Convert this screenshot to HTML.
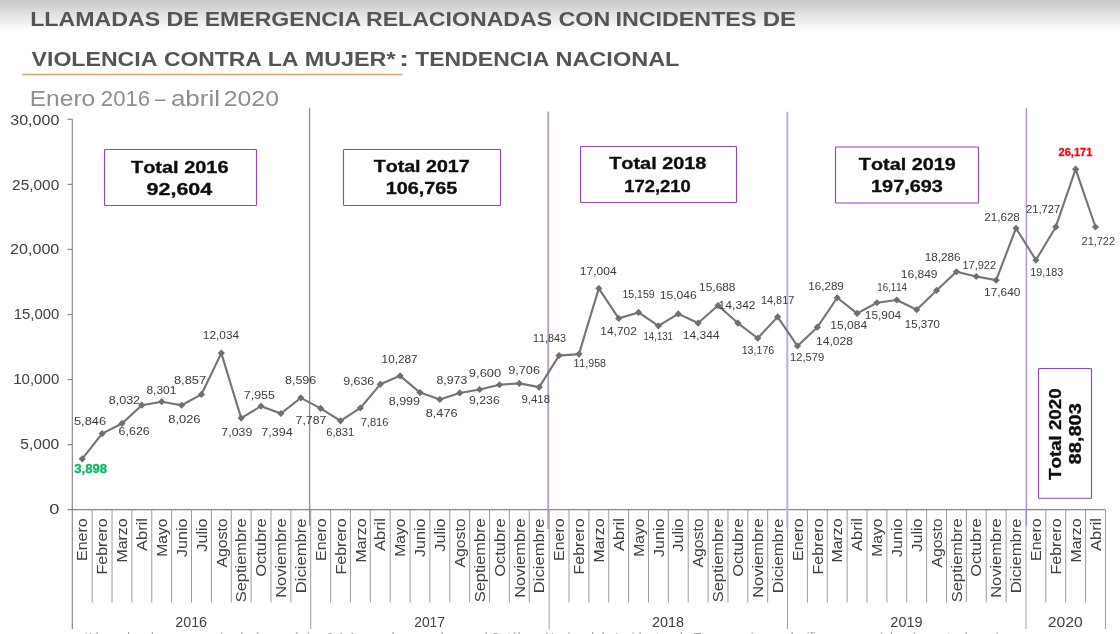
<!DOCTYPE html>
<html lang="es"><head><meta charset="utf-8"><title>Llamadas de emergencia</title>
<style>
html,body{margin:0;padding:0;background:#fff;}
body{width:1120px;height:634px;overflow:hidden;}
svg{display:block;font-family:"Liberation Sans",sans-serif;font-kerning:none;}
text{font-kerning:none;}
.t{font-weight:700;fill:#575453;font-size:20px;}
.sub{fill:#8e8e8e;font-size:22px;}
.yl{fill:#404040;font-size:14.5px;}
.dl{fill:#3c3c3c;font-size:11.3px;}
.ml{fill:#404040;font-size:14.3px;}
.yr{fill:#404040;font-size:14.3px;}
.tb{font-weight:700;fill:#111;font-size:17px;stroke:#111;stroke-width:0.35px;}
.fn{fill:#a0a0a0;font-size:14px;}
</style></head><body>
<svg width="1120" height="634" viewBox="0 0 1120 634">
<defs><filter id="soft" x="-2%" y="-2%" width="104%" height="104%"><feGaussianBlur stdDeviation="0.35"/></filter><linearGradient id="tg" x1="0" y1="0" x2="0" y2="1"><stop offset="0" stop-color="#c7c7c7"/><stop offset="1" stop-color="#ffffff"/></linearGradient></defs>
<rect x="0" y="0" width="1120" height="634" fill="#fff"/>
<rect x="0" y="0" width="1120" height="31" fill="url(#tg)"/>
<g filter="url(#soft)">

<text class="t" y="26.30"><tspan x="30.20" textLength="129.95" lengthAdjust="spacingAndGlyphs">LLAMADAS</tspan> <tspan x="166.44" textLength="32.48" lengthAdjust="spacingAndGlyphs">DE</tspan> <tspan x="204.71" textLength="156.40" lengthAdjust="spacingAndGlyphs">EMERGENCIA</tspan> <tspan x="365.95" textLength="186.20" lengthAdjust="spacingAndGlyphs">RELACIONADAS</tspan> <tspan x="558.54" textLength="51.78" lengthAdjust="spacingAndGlyphs">CON</tspan> <tspan x="615.44" textLength="140.97" lengthAdjust="spacingAndGlyphs">INCIDENTES</tspan> <tspan x="762.65" textLength="33.29" lengthAdjust="spacingAndGlyphs">DE</tspan></text>
<text class="t" y="66.20"><tspan x="31.59" textLength="125.77" lengthAdjust="spacingAndGlyphs">VIOLENCIA</tspan> <tspan x="164.06" textLength="97.79" lengthAdjust="spacingAndGlyphs">CONTRA</tspan> <tspan x="267.70" textLength="30.91" lengthAdjust="spacingAndGlyphs">LA</tspan> <tspan x="304.69" textLength="90.83" lengthAdjust="spacingAndGlyphs">MUJER*</tspan> <tspan x="398.67" textLength="10.66" lengthAdjust="spacingAndGlyphs">:</tspan> <tspan x="415.24" textLength="134.11" lengthAdjust="spacingAndGlyphs">TENDENCIA</tspan> <tspan x="555.43" textLength="124.05" lengthAdjust="spacingAndGlyphs">NACIONAL</tspan></text>
<rect x="22" y="73.7" width="380.5" height="1.6" fill="#cda57a"/>
<text class="sub" y="106.20"><tspan x="29.74" textLength="65.55" lengthAdjust="spacingAndGlyphs">Enero</tspan> <tspan x="100.88" textLength="49.34" lengthAdjust="spacingAndGlyphs">2016</tspan> <tspan x="155.00" textLength="10.51" lengthAdjust="spacingAndGlyphs">–</tspan> <tspan x="170.90" textLength="49.09" lengthAdjust="spacingAndGlyphs">abril</tspan> <tspan x="223.75" textLength="55.22" lengthAdjust="spacingAndGlyphs">2020</tspan></text>
<g stroke="#888888" stroke-width="1.2" fill="none">
<line x1="72.3" y1="119.3" x2="72.3" y2="629"/>
<line x1="67.5" y1="509.7" x2="1105.2" y2="509.7"/>
<line x1="67.5" y1="119.30" x2="72.3" y2="119.30"/>
<line x1="67.5" y1="184.37" x2="72.3" y2="184.37"/>
<line x1="67.5" y1="249.43" x2="72.3" y2="249.43"/>
<line x1="67.5" y1="314.50" x2="72.3" y2="314.50"/>
<line x1="67.5" y1="379.57" x2="72.3" y2="379.57"/>
<line x1="67.5" y1="444.63" x2="72.3" y2="444.63"/>
</g>
<g stroke="#9c9c9c" stroke-width="1.0" fill="none">
<line x1="92.17" y1="509.7" x2="92.17" y2="602.5"/>
<line x1="112.04" y1="509.7" x2="112.04" y2="602.5"/>
<line x1="131.90" y1="509.7" x2="131.90" y2="602.5"/>
<line x1="151.77" y1="509.7" x2="151.77" y2="602.5"/>
<line x1="171.64" y1="509.7" x2="171.64" y2="602.5"/>
<line x1="191.51" y1="509.7" x2="191.51" y2="602.5"/>
<line x1="211.38" y1="509.7" x2="211.38" y2="602.5"/>
<line x1="231.24" y1="509.7" x2="231.24" y2="602.5"/>
<line x1="251.11" y1="509.7" x2="251.11" y2="602.5"/>
<line x1="270.98" y1="509.7" x2="270.98" y2="602.5"/>
<line x1="290.85" y1="509.7" x2="290.85" y2="602.5"/>
<line x1="310.72" y1="509.7" x2="310.72" y2="629"/>
<line x1="330.58" y1="509.7" x2="330.58" y2="602.5"/>
<line x1="350.45" y1="509.7" x2="350.45" y2="602.5"/>
<line x1="370.32" y1="509.7" x2="370.32" y2="602.5"/>
<line x1="390.19" y1="509.7" x2="390.19" y2="602.5"/>
<line x1="410.06" y1="509.7" x2="410.06" y2="602.5"/>
<line x1="429.92" y1="509.7" x2="429.92" y2="602.5"/>
<line x1="449.79" y1="509.7" x2="449.79" y2="602.5"/>
<line x1="469.66" y1="509.7" x2="469.66" y2="602.5"/>
<line x1="489.53" y1="509.7" x2="489.53" y2="602.5"/>
<line x1="509.40" y1="509.7" x2="509.40" y2="602.5"/>
<line x1="529.26" y1="509.7" x2="529.26" y2="602.5"/>
<line x1="549.13" y1="509.7" x2="549.13" y2="629"/>
<line x1="569.00" y1="509.7" x2="569.00" y2="602.5"/>
<line x1="588.87" y1="509.7" x2="588.87" y2="602.5"/>
<line x1="608.74" y1="509.7" x2="608.74" y2="602.5"/>
<line x1="628.60" y1="509.7" x2="628.60" y2="602.5"/>
<line x1="648.47" y1="509.7" x2="648.47" y2="602.5"/>
<line x1="668.34" y1="509.7" x2="668.34" y2="602.5"/>
<line x1="688.21" y1="509.7" x2="688.21" y2="602.5"/>
<line x1="708.08" y1="509.7" x2="708.08" y2="602.5"/>
<line x1="727.94" y1="509.7" x2="727.94" y2="602.5"/>
<line x1="747.81" y1="509.7" x2="747.81" y2="602.5"/>
<line x1="767.68" y1="509.7" x2="767.68" y2="602.5"/>
<line x1="787.55" y1="509.7" x2="787.55" y2="629"/>
<line x1="807.42" y1="509.7" x2="807.42" y2="602.5"/>
<line x1="827.28" y1="509.7" x2="827.28" y2="602.5"/>
<line x1="847.15" y1="509.7" x2="847.15" y2="602.5"/>
<line x1="867.02" y1="509.7" x2="867.02" y2="602.5"/>
<line x1="886.89" y1="509.7" x2="886.89" y2="602.5"/>
<line x1="906.76" y1="509.7" x2="906.76" y2="602.5"/>
<line x1="926.62" y1="509.7" x2="926.62" y2="602.5"/>
<line x1="946.49" y1="509.7" x2="946.49" y2="602.5"/>
<line x1="966.36" y1="509.7" x2="966.36" y2="602.5"/>
<line x1="986.23" y1="509.7" x2="986.23" y2="602.5"/>
<line x1="1006.10" y1="509.7" x2="1006.10" y2="602.5"/>
<line x1="1025.96" y1="509.7" x2="1025.96" y2="629"/>
<line x1="1045.83" y1="509.7" x2="1045.83" y2="602.5"/>
<line x1="1065.70" y1="509.7" x2="1065.70" y2="602.5"/>
<line x1="1085.57" y1="509.7" x2="1085.57" y2="602.5"/>
<line x1="1105.44" y1="509.7" x2="1105.44" y2="629"/>
</g>
<text class="yl" x="10.29" y="124.60" textLength="49.04" lengthAdjust="spacingAndGlyphs">30,000</text>
<text class="yl" x="12.12" y="189.50" textLength="47.18" lengthAdjust="spacingAndGlyphs">25,000</text>
<text class="yl" x="10.09" y="254.40" textLength="49.24" lengthAdjust="spacingAndGlyphs">20,000</text>
<text class="yl" x="13.77" y="319.30" textLength="45.51" lengthAdjust="spacingAndGlyphs">15,000</text>
<text class="yl" x="13.15" y="384.20" textLength="46.14" lengthAdjust="spacingAndGlyphs">10,000</text>
<text class="yl" x="20.28" y="449.10" textLength="39.03" lengthAdjust="spacingAndGlyphs">5,000</text>
<text class="yl" x="49.29" y="514.00" textLength="10.12" lengthAdjust="spacingAndGlyphs">0</text>
<line x1="309.6" y1="108.2" x2="309.6" y2="525.6" stroke="#a57cc4" stroke-width="1.3"/>
<line x1="548.2" y1="111.4" x2="548.2" y2="529.1" stroke="#b39ccb" stroke-width="1.8"/>
<line x1="787.3" y1="111.8" x2="787.3" y2="529.3" stroke="#c3acd6" stroke-width="2.0"/>
<line x1="1026.4" y1="108.2" x2="1026.4" y2="525.6" stroke="#b494cd" stroke-width="1.5"/>
<text class="ml" transform="translate(87.43,0) rotate(-90)" x="-560.91" y="0" textLength="42.47" lengthAdjust="spacingAndGlyphs">Enero</text>
<text class="ml" transform="translate(107.30,0) rotate(-90)" x="-574.51" y="0" textLength="56.09" lengthAdjust="spacingAndGlyphs">Febrero</text>
<text class="ml" transform="translate(127.17,0) rotate(-90)" x="-562.60" y="0" textLength="44.17" lengthAdjust="spacingAndGlyphs">Marzo</text>
<text class="ml" transform="translate(147.04,0) rotate(-90)" x="-551.03" y="0" textLength="33.04" lengthAdjust="spacingAndGlyphs">Abril</text>
<text class="ml" transform="translate(166.91,0) rotate(-90)" x="-556.79" y="0" textLength="38.34" lengthAdjust="spacingAndGlyphs">Mayo</text>
<text class="ml" transform="translate(186.77,0) rotate(-90)" x="-556.95" y="0" textLength="38.53" lengthAdjust="spacingAndGlyphs">Junio</text>
<text class="ml" transform="translate(206.64,0) rotate(-90)" x="-551.65" y="0" textLength="33.23" lengthAdjust="spacingAndGlyphs">Julio</text>
<text class="ml" transform="translate(226.51,0) rotate(-90)" x="-567.63" y="0" textLength="49.19" lengthAdjust="spacingAndGlyphs">Agosto</text>
<text class="ml" transform="translate(246.38,0) rotate(-90)" x="-602.24" y="0" textLength="83.87" lengthAdjust="spacingAndGlyphs">Septiembre</text>
<text class="ml" transform="translate(266.25,0) rotate(-90)" x="-576.68" y="0" textLength="58.30" lengthAdjust="spacingAndGlyphs">Octubre</text>
<text class="ml" transform="translate(286.11,0) rotate(-90)" x="-597.75" y="0" textLength="79.38" lengthAdjust="spacingAndGlyphs">Noviembre</text>
<text class="ml" transform="translate(305.98,0) rotate(-90)" x="-593.27" y="0" textLength="74.90" lengthAdjust="spacingAndGlyphs">Diciembre</text>
<text class="ml" transform="translate(325.85,0) rotate(-90)" x="-560.91" y="0" textLength="42.47" lengthAdjust="spacingAndGlyphs">Enero</text>
<text class="ml" transform="translate(345.72,0) rotate(-90)" x="-574.51" y="0" textLength="56.09" lengthAdjust="spacingAndGlyphs">Febrero</text>
<text class="ml" transform="translate(365.59,0) rotate(-90)" x="-562.60" y="0" textLength="44.17" lengthAdjust="spacingAndGlyphs">Marzo</text>
<text class="ml" transform="translate(385.45,0) rotate(-90)" x="-551.03" y="0" textLength="33.04" lengthAdjust="spacingAndGlyphs">Abril</text>
<text class="ml" transform="translate(405.32,0) rotate(-90)" x="-556.79" y="0" textLength="38.34" lengthAdjust="spacingAndGlyphs">Mayo</text>
<text class="ml" transform="translate(425.19,0) rotate(-90)" x="-556.95" y="0" textLength="38.53" lengthAdjust="spacingAndGlyphs">Junio</text>
<text class="ml" transform="translate(445.06,0) rotate(-90)" x="-551.65" y="0" textLength="33.23" lengthAdjust="spacingAndGlyphs">Julio</text>
<text class="ml" transform="translate(464.93,0) rotate(-90)" x="-567.63" y="0" textLength="49.19" lengthAdjust="spacingAndGlyphs">Agosto</text>
<text class="ml" transform="translate(484.79,0) rotate(-90)" x="-602.24" y="0" textLength="83.87" lengthAdjust="spacingAndGlyphs">Septiembre</text>
<text class="ml" transform="translate(504.66,0) rotate(-90)" x="-576.68" y="0" textLength="58.30" lengthAdjust="spacingAndGlyphs">Octubre</text>
<text class="ml" transform="translate(524.53,0) rotate(-90)" x="-597.75" y="0" textLength="79.38" lengthAdjust="spacingAndGlyphs">Noviembre</text>
<text class="ml" transform="translate(544.40,0) rotate(-90)" x="-593.27" y="0" textLength="74.90" lengthAdjust="spacingAndGlyphs">Diciembre</text>
<text class="ml" transform="translate(564.27,0) rotate(-90)" x="-560.91" y="0" textLength="42.47" lengthAdjust="spacingAndGlyphs">Enero</text>
<text class="ml" transform="translate(584.13,0) rotate(-90)" x="-574.51" y="0" textLength="56.09" lengthAdjust="spacingAndGlyphs">Febrero</text>
<text class="ml" transform="translate(604.00,0) rotate(-90)" x="-562.60" y="0" textLength="44.17" lengthAdjust="spacingAndGlyphs">Marzo</text>
<text class="ml" transform="translate(623.87,0) rotate(-90)" x="-551.03" y="0" textLength="33.04" lengthAdjust="spacingAndGlyphs">Abril</text>
<text class="ml" transform="translate(643.74,0) rotate(-90)" x="-556.79" y="0" textLength="38.34" lengthAdjust="spacingAndGlyphs">Mayo</text>
<text class="ml" transform="translate(663.61,0) rotate(-90)" x="-556.95" y="0" textLength="38.53" lengthAdjust="spacingAndGlyphs">Junio</text>
<text class="ml" transform="translate(683.47,0) rotate(-90)" x="-551.65" y="0" textLength="33.23" lengthAdjust="spacingAndGlyphs">Julio</text>
<text class="ml" transform="translate(703.34,0) rotate(-90)" x="-567.63" y="0" textLength="49.19" lengthAdjust="spacingAndGlyphs">Agosto</text>
<text class="ml" transform="translate(723.21,0) rotate(-90)" x="-602.24" y="0" textLength="83.87" lengthAdjust="spacingAndGlyphs">Septiembre</text>
<text class="ml" transform="translate(743.08,0) rotate(-90)" x="-576.68" y="0" textLength="58.30" lengthAdjust="spacingAndGlyphs">Octubre</text>
<text class="ml" transform="translate(762.95,0) rotate(-90)" x="-597.75" y="0" textLength="79.38" lengthAdjust="spacingAndGlyphs">Noviembre</text>
<text class="ml" transform="translate(782.81,0) rotate(-90)" x="-593.27" y="0" textLength="74.90" lengthAdjust="spacingAndGlyphs">Diciembre</text>
<text class="ml" transform="translate(802.68,0) rotate(-90)" x="-560.91" y="0" textLength="42.47" lengthAdjust="spacingAndGlyphs">Enero</text>
<text class="ml" transform="translate(822.55,0) rotate(-90)" x="-574.51" y="0" textLength="56.09" lengthAdjust="spacingAndGlyphs">Febrero</text>
<text class="ml" transform="translate(842.42,0) rotate(-90)" x="-562.60" y="0" textLength="44.17" lengthAdjust="spacingAndGlyphs">Marzo</text>
<text class="ml" transform="translate(862.29,0) rotate(-90)" x="-551.03" y="0" textLength="33.04" lengthAdjust="spacingAndGlyphs">Abril</text>
<text class="ml" transform="translate(882.15,0) rotate(-90)" x="-556.79" y="0" textLength="38.34" lengthAdjust="spacingAndGlyphs">Mayo</text>
<text class="ml" transform="translate(902.02,0) rotate(-90)" x="-556.95" y="0" textLength="38.53" lengthAdjust="spacingAndGlyphs">Junio</text>
<text class="ml" transform="translate(921.89,0) rotate(-90)" x="-551.65" y="0" textLength="33.23" lengthAdjust="spacingAndGlyphs">Julio</text>
<text class="ml" transform="translate(941.76,0) rotate(-90)" x="-567.63" y="0" textLength="49.19" lengthAdjust="spacingAndGlyphs">Agosto</text>
<text class="ml" transform="translate(961.63,0) rotate(-90)" x="-602.24" y="0" textLength="83.87" lengthAdjust="spacingAndGlyphs">Septiembre</text>
<text class="ml" transform="translate(981.49,0) rotate(-90)" x="-576.68" y="0" textLength="58.30" lengthAdjust="spacingAndGlyphs">Octubre</text>
<text class="ml" transform="translate(1001.36,0) rotate(-90)" x="-597.75" y="0" textLength="79.38" lengthAdjust="spacingAndGlyphs">Noviembre</text>
<text class="ml" transform="translate(1021.23,0) rotate(-90)" x="-593.27" y="0" textLength="74.90" lengthAdjust="spacingAndGlyphs">Diciembre</text>
<text class="ml" transform="translate(1041.10,0) rotate(-90)" x="-560.91" y="0" textLength="42.47" lengthAdjust="spacingAndGlyphs">Enero</text>
<text class="ml" transform="translate(1060.97,0) rotate(-90)" x="-574.51" y="0" textLength="56.09" lengthAdjust="spacingAndGlyphs">Febrero</text>
<text class="ml" transform="translate(1080.83,0) rotate(-90)" x="-562.60" y="0" textLength="44.17" lengthAdjust="spacingAndGlyphs">Marzo</text>
<text class="ml" transform="translate(1100.70,0) rotate(-90)" x="-551.03" y="0" textLength="33.04" lengthAdjust="spacingAndGlyphs">Abril</text>
<text class="yr" x="175.29" y="626.50" textLength="31.74" lengthAdjust="spacingAndGlyphs">2016</text>
<text class="yr" x="414.23" y="626.50" textLength="30.79" lengthAdjust="spacingAndGlyphs">2017</text>
<text class="yr" x="651.91" y="626.50" textLength="32.16" lengthAdjust="spacingAndGlyphs">2018</text>
<text class="yr" x="890.33" y="626.50" textLength="32.21" lengthAdjust="spacingAndGlyphs">2019</text>
<text class="yr" x="1047.81" y="626.50" textLength="35.01" lengthAdjust="spacingAndGlyphs">2020</text>
<polyline points="82.23,458.97 102.10,433.62 121.97,423.47 141.84,405.18 161.71,401.68 181.57,405.25 201.44,394.44 221.31,353.10 241.18,418.10 261.05,406.18 280.91,413.48 300.78,397.84 320.65,408.37 340.52,420.81 360.39,407.99 380.25,384.30 400.12,375.83 419.99,392.59 439.86,399.40 459.73,392.93 479.59,389.51 499.46,384.77 519.33,383.39 539.20,387.14 559.07,355.58 578.93,354.09 598.80,288.42 618.67,318.38 638.54,312.43 658.41,325.81 678.27,313.90 698.14,323.04 718.01,305.55 737.88,323.06 757.75,338.24 777.61,316.88 797.48,346.01 817.35,327.15 837.22,297.73 857.09,313.41 876.95,302.74 896.82,300.00 916.69,309.69 936.56,290.44 956.43,271.74 976.29,276.48 996.16,280.14 1016.03,228.25 1035.90,260.07 1055.77,226.96 1075.63,169.13 1095.50,227.02" fill="none" stroke="#747474" stroke-width="2.1" stroke-linejoin="round" stroke-linecap="round"/>
<path d="M82.23 455.37l3.6 3.6l-3.6 3.6l-3.6 -3.6ZM102.10 430.02l3.6 3.6l-3.6 3.6l-3.6 -3.6ZM121.97 419.87l3.6 3.6l-3.6 3.6l-3.6 -3.6ZM141.84 401.58l3.6 3.6l-3.6 3.6l-3.6 -3.6ZM161.71 398.08l3.6 3.6l-3.6 3.6l-3.6 -3.6ZM181.57 401.65l3.6 3.6l-3.6 3.6l-3.6 -3.6ZM201.44 390.84l3.6 3.6l-3.6 3.6l-3.6 -3.6ZM221.31 349.50l3.6 3.6l-3.6 3.6l-3.6 -3.6ZM241.18 414.50l3.6 3.6l-3.6 3.6l-3.6 -3.6ZM261.05 402.58l3.6 3.6l-3.6 3.6l-3.6 -3.6ZM280.91 409.88l3.6 3.6l-3.6 3.6l-3.6 -3.6ZM300.78 394.24l3.6 3.6l-3.6 3.6l-3.6 -3.6ZM320.65 404.77l3.6 3.6l-3.6 3.6l-3.6 -3.6ZM340.52 417.21l3.6 3.6l-3.6 3.6l-3.6 -3.6ZM360.39 404.39l3.6 3.6l-3.6 3.6l-3.6 -3.6ZM380.25 380.70l3.6 3.6l-3.6 3.6l-3.6 -3.6ZM400.12 372.23l3.6 3.6l-3.6 3.6l-3.6 -3.6ZM419.99 388.99l3.6 3.6l-3.6 3.6l-3.6 -3.6ZM439.86 395.80l3.6 3.6l-3.6 3.6l-3.6 -3.6ZM459.73 389.33l3.6 3.6l-3.6 3.6l-3.6 -3.6ZM479.59 385.91l3.6 3.6l-3.6 3.6l-3.6 -3.6ZM499.46 381.17l3.6 3.6l-3.6 3.6l-3.6 -3.6ZM519.33 379.79l3.6 3.6l-3.6 3.6l-3.6 -3.6ZM539.20 383.54l3.6 3.6l-3.6 3.6l-3.6 -3.6ZM559.07 351.98l3.6 3.6l-3.6 3.6l-3.6 -3.6ZM578.93 350.49l3.6 3.6l-3.6 3.6l-3.6 -3.6ZM598.80 284.82l3.6 3.6l-3.6 3.6l-3.6 -3.6ZM618.67 314.78l3.6 3.6l-3.6 3.6l-3.6 -3.6ZM638.54 308.83l3.6 3.6l-3.6 3.6l-3.6 -3.6ZM658.41 322.21l3.6 3.6l-3.6 3.6l-3.6 -3.6ZM678.27 310.30l3.6 3.6l-3.6 3.6l-3.6 -3.6ZM698.14 319.44l3.6 3.6l-3.6 3.6l-3.6 -3.6ZM718.01 301.95l3.6 3.6l-3.6 3.6l-3.6 -3.6ZM737.88 319.46l3.6 3.6l-3.6 3.6l-3.6 -3.6ZM757.75 334.64l3.6 3.6l-3.6 3.6l-3.6 -3.6ZM777.61 313.28l3.6 3.6l-3.6 3.6l-3.6 -3.6ZM797.48 342.41l3.6 3.6l-3.6 3.6l-3.6 -3.6ZM817.35 323.55l3.6 3.6l-3.6 3.6l-3.6 -3.6ZM837.22 294.13l3.6 3.6l-3.6 3.6l-3.6 -3.6ZM857.09 309.81l3.6 3.6l-3.6 3.6l-3.6 -3.6ZM876.95 299.14l3.6 3.6l-3.6 3.6l-3.6 -3.6ZM896.82 296.40l3.6 3.6l-3.6 3.6l-3.6 -3.6ZM916.69 306.09l3.6 3.6l-3.6 3.6l-3.6 -3.6ZM936.56 286.84l3.6 3.6l-3.6 3.6l-3.6 -3.6ZM956.43 268.14l3.6 3.6l-3.6 3.6l-3.6 -3.6ZM976.29 272.88l3.6 3.6l-3.6 3.6l-3.6 -3.6ZM996.16 276.54l3.6 3.6l-3.6 3.6l-3.6 -3.6ZM1016.03 224.65l3.6 3.6l-3.6 3.6l-3.6 -3.6ZM1035.90 256.47l3.6 3.6l-3.6 3.6l-3.6 -3.6ZM1055.77 223.36l3.6 3.6l-3.6 3.6l-3.6 -3.6ZM1075.63 165.53l3.6 3.6l-3.6 3.6l-3.6 -3.6ZM1095.50 223.42l3.6 3.6l-3.6 3.6l-3.6 -3.6Z" fill="#6f6f6f"/>
<text class="dl" style="fill:#00c25c;stroke:#00c25c;stroke-width:0.3px;font-weight:700;font-size:12px" x="74.20" y="472.90" textLength="32.96" lengthAdjust="spacingAndGlyphs">3,898</text>
<text class="dl" x="73.99" y="425.00" textLength="32.08" lengthAdjust="spacingAndGlyphs">5,846</text>
<text class="dl" x="118.62" y="434.50" textLength="31.18" lengthAdjust="spacingAndGlyphs">6,626</text>
<text class="dl" x="108.70" y="403.75" textLength="31.43" lengthAdjust="spacingAndGlyphs">8,032</text>
<text class="dl" x="146.48" y="394.25" textLength="29.85" lengthAdjust="spacingAndGlyphs">8,301</text>
<text class="dl" x="168.19" y="423.00" textLength="32.38" lengthAdjust="spacingAndGlyphs">8,026</text>
<text class="dl" x="173.94" y="384.25" textLength="32.21" lengthAdjust="spacingAndGlyphs">8,857</text>
<text class="dl" x="202.85" y="339.25" textLength="36.25" lengthAdjust="spacingAndGlyphs">12,034</text>
<text class="dl" x="221.37" y="435.50" textLength="30.97" lengthAdjust="spacingAndGlyphs">7,039</text>
<text class="dl" x="243.87" y="399.00" textLength="30.90" lengthAdjust="spacingAndGlyphs">7,955</text>
<text class="dl" x="261.35" y="436.25" textLength="31.51" lengthAdjust="spacingAndGlyphs">7,394</text>
<text class="dl" x="284.96" y="384.00" textLength="31.34" lengthAdjust="spacingAndGlyphs">8,596</text>
<text class="dl" x="295.62" y="424.00" textLength="30.75" lengthAdjust="spacingAndGlyphs">7,787</text>
<text class="dl" x="326.18" y="435.50" textLength="28.12" lengthAdjust="spacingAndGlyphs">6,831</text>
<text class="dl" x="360.68" y="425.50" textLength="27.81" lengthAdjust="spacingAndGlyphs">7,816</text>
<text class="dl" x="343.17" y="384.50" textLength="31.13" lengthAdjust="spacingAndGlyphs">9,636</text>
<text class="dl" x="381.60" y="362.50" textLength="35.99" lengthAdjust="spacingAndGlyphs">10,287</text>
<text class="dl" x="388.70" y="405.00" textLength="31.39" lengthAdjust="spacingAndGlyphs">8,999</text>
<text class="dl" x="425.70" y="417.00" textLength="31.86" lengthAdjust="spacingAndGlyphs">8,476</text>
<text class="dl" x="436.46" y="384.00" textLength="30.83" lengthAdjust="spacingAndGlyphs">8,973</text>
<text class="dl" x="468.92" y="403.75" textLength="30.87" lengthAdjust="spacingAndGlyphs">9,236</text>
<text class="dl" x="468.89" y="377.00" textLength="32.36" lengthAdjust="spacingAndGlyphs">9,600</text>
<text class="dl" x="508.15" y="374.25" textLength="31.91" lengthAdjust="spacingAndGlyphs">9,706</text>
<text class="dl" x="521.47" y="403.25" textLength="28.53" lengthAdjust="spacingAndGlyphs">9,418</text>
<text class="dl" x="532.93" y="342.00" textLength="33.05" lengthAdjust="spacingAndGlyphs">11,843</text>
<text class="dl" x="573.44" y="366.75" textLength="32.52" lengthAdjust="spacingAndGlyphs">11,958</text>
<text class="dl" x="579.83" y="274.50" textLength="36.77" lengthAdjust="spacingAndGlyphs">17,004</text>
<text class="dl" x="600.34" y="334.50" textLength="36.51" lengthAdjust="spacingAndGlyphs">14,702</text>
<text class="dl" x="622.45" y="298.25" textLength="32.30" lengthAdjust="spacingAndGlyphs">15,159</text>
<text class="dl" x="643.52" y="340.00" textLength="29.45" lengthAdjust="spacingAndGlyphs">14,131</text>
<text class="dl" x="659.83" y="299.25" textLength="36.95" lengthAdjust="spacingAndGlyphs">15,046</text>
<text class="dl" x="682.83" y="338.75" textLength="36.77" lengthAdjust="spacingAndGlyphs">14,344</text>
<text class="dl" x="699.09" y="291.25" textLength="36.42" lengthAdjust="spacingAndGlyphs">15,688</text>
<text class="dl" x="718.58" y="309.25" textLength="37.03" lengthAdjust="spacingAndGlyphs">14,342</text>
<text class="dl" x="741.69" y="353.75" textLength="32.53" lengthAdjust="spacingAndGlyphs">13,176</text>
<text class="dl" x="760.92" y="303.75" textLength="33.38" lengthAdjust="spacingAndGlyphs">14,817</text>
<text class="dl" x="789.89" y="361.25" textLength="34.39" lengthAdjust="spacingAndGlyphs">12,579</text>
<text class="dl" x="816.08" y="344.50" textLength="36.95" lengthAdjust="spacingAndGlyphs">14,028</text>
<text class="dl" x="808.37" y="290.00" textLength="35.43" lengthAdjust="spacingAndGlyphs">16,289</text>
<text class="dl" x="830.33" y="329.25" textLength="36.77" lengthAdjust="spacingAndGlyphs">15,084</text>
<text class="dl" x="864.85" y="319.25" textLength="36.25" lengthAdjust="spacingAndGlyphs">15,904</text>
<text class="dl" x="877.26" y="291.25" textLength="29.78" lengthAdjust="spacingAndGlyphs">16,114</text>
<text class="dl" x="904.88" y="327.50" textLength="35.07" lengthAdjust="spacingAndGlyphs">15,370</text>
<text class="dl" x="900.84" y="278.00" textLength="36.73" lengthAdjust="spacingAndGlyphs">16,849</text>
<text class="dl" x="924.86" y="261.25" textLength="35.65" lengthAdjust="spacingAndGlyphs">18,286</text>
<text class="dl" x="962.41" y="269.25" textLength="33.64" lengthAdjust="spacingAndGlyphs">17,922</text>
<text class="dl" x="984.09" y="296.25" textLength="36.37" lengthAdjust="spacingAndGlyphs">17,640</text>
<text class="dl" x="984.32" y="220.50" textLength="35.49" lengthAdjust="spacingAndGlyphs">21,628</text>
<text class="dl" x="1030.18" y="275.90" textLength="33.00" lengthAdjust="spacingAndGlyphs">19,183</text>
<text class="dl" x="1025.94" y="212.80" textLength="34.33" lengthAdjust="spacingAndGlyphs">21,727</text>
<text class="dl" style="fill:#ff0000;stroke:#ff0000;stroke-width:0.3px;font-weight:700;font-size:11.8px" x="1058.52" y="155.80" textLength="33.89" lengthAdjust="spacingAndGlyphs">26,171</text>
<text class="dl" x="1081.55" y="244.70" textLength="33.50" lengthAdjust="spacingAndGlyphs">21,722</text>
<rect x="104.5" y="149.5" width="152.0" height="56.0" rx="0.8" fill="#fff" stroke="#9644bc" stroke-width="1.15"/>
<text class="tb" x="130.98" y="172.50" textLength="97.54" lengthAdjust="spacingAndGlyphs">Total 2016</text>
<text class="tb" x="146.56" y="195.30" textLength="65.66" lengthAdjust="spacingAndGlyphs">92,604</text>
<rect x="343.5" y="149.5" width="157.0" height="56.0" rx="0.8" fill="#fff" stroke="#9644bc" stroke-width="1.15"/>
<text class="tb" x="373.68" y="171.80" textLength="95.98" lengthAdjust="spacingAndGlyphs">Total 2017</text>
<text class="tb" x="385.65" y="194.10" textLength="71.60" lengthAdjust="spacingAndGlyphs">106,765</text>
<rect x="580.5" y="146.5" width="156.0" height="56.0" rx="0.8" fill="#fff" stroke="#9644bc" stroke-width="1.15"/>
<text class="tb" x="609.18" y="169.10" textLength="97.23" lengthAdjust="spacingAndGlyphs">Total 2018</text>
<text class="tb" x="624.24" y="191.50" textLength="66.41" lengthAdjust="spacingAndGlyphs">172,210</text>
<rect x="835.5" y="147.0" width="143.0" height="56.0" rx="0.8" fill="#fff" stroke="#9644bc" stroke-width="1.15"/>
<text class="tb" x="858.88" y="169.80" textLength="96.86" lengthAdjust="spacingAndGlyphs">Total 2019</text>
<text class="tb" x="871.05" y="191.80" textLength="71.77" lengthAdjust="spacingAndGlyphs">197,693</text>
<rect x="1038.5" y="368.5" width="53" height="129.7" rx="0.8" fill="#fff" stroke="#9644bc" stroke-width="1.15"/>
<text class="tb" transform="translate(1061.00,0) rotate(-90)" x="-479.91" y="0" textLength="91.48" lengthAdjust="spacingAndGlyphs">Total 2020</text>
<text class="tb" transform="translate(1081.00,0) rotate(-90)" x="-464.44" y="0" textLength="61.26" lengthAdjust="spacingAndGlyphs">88,803</text>
</g>
<text class="fn" x="83.80" y="643.30" textLength="929.35" lengthAdjust="spacingAndGlyphs">*Llamadas de emergencia al número único 9-1-1 que, de acuerdo con el Catálogo Nacional de Incidentes de Emergencia, se clasifican como violencia contra la mujer.</text>
</svg></body></html>
